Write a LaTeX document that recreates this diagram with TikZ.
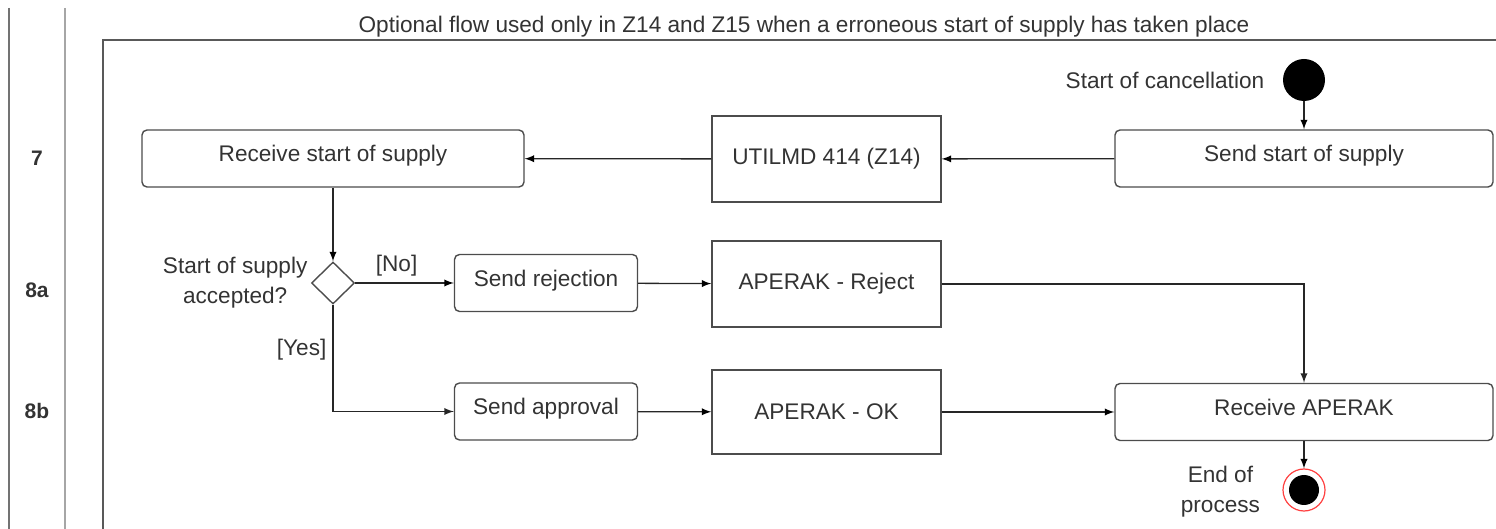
\documentclass[tikz,border=0pt]{standalone}
\usepackage{fontspec}
\setmainfont{Liberation Sans}
\usetikzlibrary{arrows,positioning,shapes.geometric}

\begin{document}
\begin{tikzpicture}[x=0.5pt,y=-0.5pt,
	font=\fontsize{11.3}{15}\selectfont,
	every node/.style={text=black!80},
	act/.style={draw=black!70, line width=0.7pt, rounded corners=2.5pt, minimum height=28.5pt, inner sep=2pt, text height=7.6pt, text depth=4.4pt},
	obj/.style={draw=black!70, line width=0.7pt, minimum width=114.5pt, minimum height=43pt},
	lbl/.style={align=center, inner sep=1pt},
	rowlbl/.style={font=\fontsize{10.5}{12}\selectfont\bfseries},
	flow/.style={->, >=latex, line width=0.65pt, draw=black!85}]
	\useasboundingbox (0,0) rectangle (1496,529);
	\draw[black!55, line width=0.8pt] (9,8) -- (9,529);
	\draw[black!35, line width=1.1pt] (65,8) -- (65,529);
	\draw[black!65, line width=0.8pt] (103,529) |- (1496,40);
	\node[rowlbl] (row7) at (37,158) {7};
	\node[rowlbl] (row8a) at (37,290) {8a};
	\node[rowlbl] (row8b) at (37,411) {8b};
	\node (title) at (804,27) {Optional flow used only in Z14 and Z15 when a erroneous start of supply has taken place};

	\node[circle, fill=black, minimum size=21pt, inner sep=0pt] (start) at (1304,80) {};
	\node[lbl, left=8pt of start] (startlbl) {Start of cancellation};
	\node[act, minimum width=189pt] (sendstart) at (1304,158.5) {Send start of supply};
	\node[obj] (utilmd) at (826.5,159) {UTILMD 414 (Z14)};
	\node[act, minimum width=191pt] (rcvstart) at (333,158.5) {Receive start of supply};
	\node[diamond, draw=black!70, line width=0.7pt, minimum width=21.5pt, minimum height=21pt, inner sep=0pt] (accepted) at (333,283) {};
	\node[lbl, left=0.5pt of accepted] (acceptedlbl) {Start of supply\\accepted?};
	\node[act, minimum width=91.5pt] (sendrej) at (546,283) {Send rejection};
	\node[obj] (aprej) at (826.5,284) {APERAK - Reject};
	\node[act, minimum width=91.5pt] (sendapp) at (546,411.5) {Send approval};
	\node[obj, minimum height=42pt] (apok) at (826.5,412) {APERAK - OK};
	\node[act, minimum width=189pt] (rcvaperak) at (1304,412) {Receive APERAK};
	\node[circle, draw=red!75, fill=white, line width=0.6pt, minimum size=21pt, inner sep=0pt,
		path picture={\fill[black] (path picture bounding box.center) circle (7.5pt);}] (endnode) at (1304,490) {};
	\node[lbl, left=10pt of endnode, yshift=-1pt] (endlbl) {End of\\process};

	\path[flow]
	(start) edge (sendstart)
	(sendstart) edge (utilmd)
	(utilmd) edge (rcvstart)
	(rcvstart) edge (accepted)
	(accepted) edge node[lbl, above=2pt, pos=0.42]{[No]} (sendrej)
	(sendrej) edge (aprej)
	(sendapp) edge (apok)
	(apok) edge (rcvaperak)
	(rcvaperak) edge (endnode);
	\draw[flow] (accepted.south) |- node[lbl, left=2pt, pos=0.21]{[Yes]} (sendapp.west);
	\draw[flow] (aprej.east) -| (rcvaperak.north);
\end{tikzpicture}
\end{document}
